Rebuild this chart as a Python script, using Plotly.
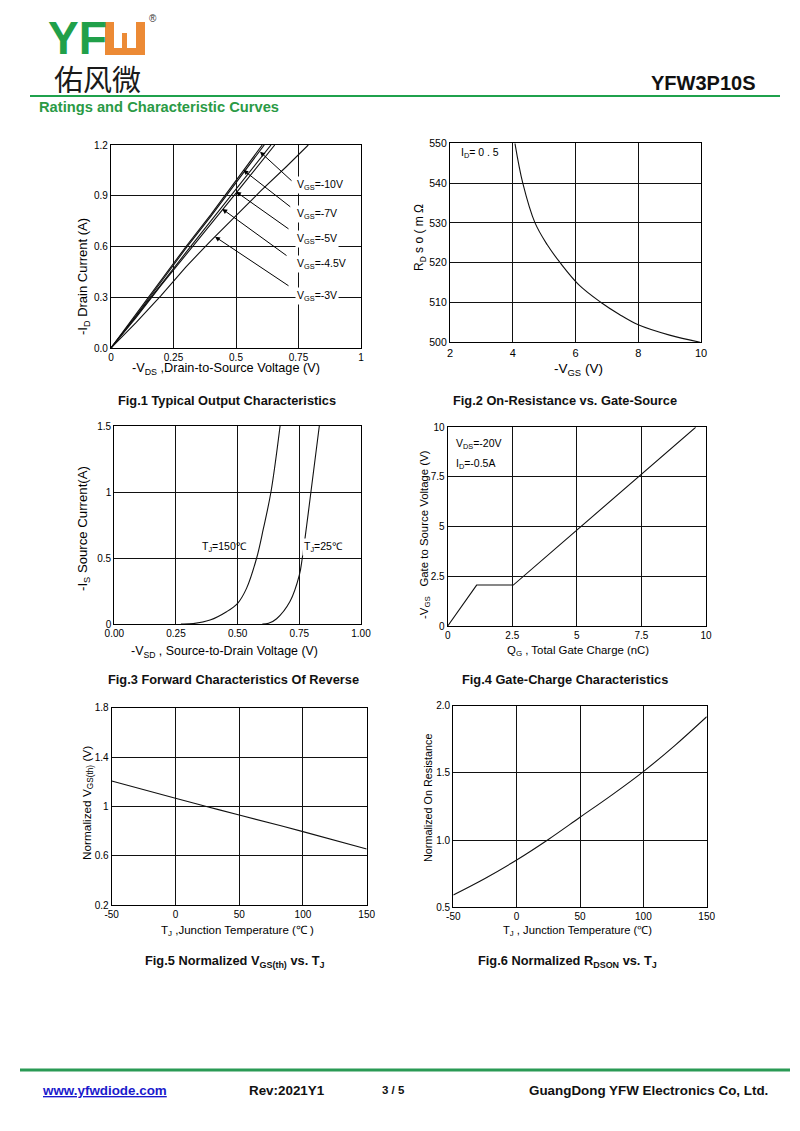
import plotly.graph_objects as go

W, H = 800, 1131
FONT = "Arial, Liberation Sans, sans-serif"
OFF = 8  # page body margin applied by the browser

# ---------------- data ----------------
# Fig.1 Typical output characteristics
f1_vds_10 = [0, 0.1, 0.2, 0.3, 0.4, 0.5, 0.605]
f1_id_10 = [0, 0.20, 0.40, 0.60, 0.79, 0.99, 1.2]
f1_vds_7 = [0, 0.1, 0.2, 0.3, 0.4, 0.5, 0.613]
f1_id_7 = [0, 0.19, 0.39, 0.59, 0.78, 0.98, 1.2]
f1_vds_5 = [0, 0.1, 0.2, 0.3, 0.4, 0.5, 0.64]
f1_id_5 = [0, 0.185, 0.375, 0.565, 0.75, 0.935, 1.2]
f1_vds_45 = [0, 0.1, 0.2, 0.3, 0.4, 0.5, 0.655]
f1_id_45 = [0, 0.18, 0.37, 0.55, 0.735, 0.915, 1.2]
f1_vds_3 = [0, 0.1, 0.2, 0.3, 0.4, 0.5, 0.6, 0.7, 0.789]
f1_id_3 = [0, 0.15, 0.31, 0.48, 0.635, 0.785, 0.93, 1.07, 1.2]
f1_labels = ["V<sub>GS</sub>=-10V", "V<sub>GS</sub>=-7V", "V<sub>GS</sub>=-5V",
             "V<sub>GS</sub>=-4.5V", "V<sub>GS</sub>=-3V"]
f1_label_y = [0.9635, 0.792, 0.644, 0.497, 0.307]
f1_arrow_head_x = [0.596, 0.529, 0.500, 0.445, 0.416]
f1_arrow_head_y = [1.160, 1.052, 0.924, 0.822, 0.658]
f1_arrow_tail_x = [0.728, 0.723, 0.716, 0.708, 0.716]
f1_arrow_tail_y = [0.981, 0.828, 0.698, 0.540, 0.362]
f1_xticks = [0, 0.25, 0.5, 0.75, 1]
f1_xtext = ["0", "0.25", "0.5", "0.75", "1"]
f1_yticks = [0, 0.3, 0.6, 0.9, 1.2]
f1_ytext = ["0.0", "0.3", "0.6", "0.9", "1.2"]

# Fig.2 On-resistance vs gate-source
f2_vgs = [4.07, 4.32, 4.71, 5.1, 5.51, 6.1, 6.78, 7.4, 8.0, 9.0, 9.97]
f2_r = [550, 540, 530, 524.5, 520, 514.5, 510.2, 507, 504.4, 501.8, 500]
f2_xticks = [2, 4, 6, 8, 10]
f2_yticks = [500, 510, 520, 530, 540, 550]

# Fig.3 Forward characteristics of reverse diode
f3_v150 = [0.27, 0.32, 0.388, 0.455, 0.5, 0.536, 0.577, 0.604, 0.635, 0.672]
f3_i150 = [0, 0.003, 0.03, 0.093, 0.157, 0.27, 0.5, 0.72, 1.0, 1.5]
f3_v25 = [0.6, 0.625, 0.658, 0.712, 0.75, 0.762, 0.78, 0.797, 0.831]
f3_i25 = [0, 0.005, 0.04, 0.17, 0.37, 0.5, 0.75, 1.0, 1.5]
f3_xticks = [0, 0.25, 0.5, 0.75, 1.0]
f3_xtext = ["0.00", "0.25", "0.50", "0.75", "1.00"]
f3_yticks = [0, 0.5, 1, 1.5]
f3_ytext = ["0", "0.5", "1", "1.5"]

# Fig.4 Gate charge
f4_q = [0, 1.12, 2.54, 9.6]
f4_v = [0, 2.06, 2.06, 10]
f4_ticks = [0, 2.5, 5, 7.5, 10]
f4_text = ["0", "2.5", "5", "7.5", "10"]

# Fig.5 Normalized VGS(th) vs TJ
f5_t = [-50, 0, 25, 50, 100, 150]
f5_v = [1.205, 1.065, 0.997, 0.93, 0.795, 0.654]
f5_xticks = [-50, 0, 50, 100, 150]
f5_yticks = [0.2, 0.6, 1.0, 1.4, 1.8]
f5_ytext = ["0.2", "0.6", "1", "1.4", "1.8"]

# Fig.6 Normalized RDSON vs TJ
f6_t = [-50, -25, 0, 25, 50, 75, 100, 125, 150]
f6_r = [0.592, 0.715, 0.852, 1.005, 1.17, 1.335, 1.51, 1.705, 1.918]
f6_yticks = [0.5, 1.0, 1.5, 2.0]
f6_ytext = ["0.5", "1.0", "1.5", "2.0"]

# axis titles: (text, centre x, centre y, size, angle)
axis_titles = [
    ("-V<sub>DS</sub> ,Drain-to-Source Voltage (V)", 226, 369, 12.7, 0),
    ("-I<sub>D</sub> Drain Current (A)", 84, 277, 13, -90),
    ("-V<sub>GS</sub> (V)", 578, 369, 13.5, 0),
    ("R<sub>D</sub> s o ( m Ω", 420, 238, 12, -90),
    ("-V<sub>SD</sub> , Source-to-Drain Voltage (V)", 224, 652, 12.4, 0),
    ("-I<sub>S</sub> Source Current(A)", 83, 529, 13.2, -90),
    ("Q<sub>G</sub> , Total Gate Charge (nC)", 578, 651, 11.4, 0),
    ("-V<sub>GS</sub>   Gate to Source Voltage (V)", 425, 535, 11.4, -90),
    ("T<sub>J</sub> ,Junction Temperature (℃ )", 237, 931, 11.5, 0),
    ("Normalized V<sub>GS(th)</sub> (V)", 87, 803, 11.8, -90),
    ("T<sub>J</sub> , Junction Temperature (℃)", 577, 931, 11.2, 0),
    ("Normalized On Resistance", 428, 798, 10.8, -90),
]

# ---------------- helpers ----------------
def px(x):
    return (x - OFF) / W


def py(y):
    return 1 - (y - OFF) / H


fig = go.Figure()
LINE = dict(color="#111", width=1.1)


def add(xs, ys, n, shape="linear"):
    fig.add_trace(go.Scatter(x=xs, y=ys, mode="lines", line=dict(LINE, shape=shape),
                             xaxis="x" if n == 1 else f"x{n}",
                             yaxis="y" if n == 1 else f"y{n}",
                             showlegend=False, hoverinfo="skip"))


def axis(domain, rng, tickvals, ticktext, anchor, size=10):
    return dict(domain=domain, range=rng, tickvals=tickvals, ticktext=ticktext,
                showgrid=True, gridcolor="#111", gridwidth=1, zeroline=False,
                showline=True, linecolor="black", linewidth=1.2, mirror=True,
                ticks="", tickfont=dict(family=FONT, size=size, color="black"),
                anchor=anchor, fixedrange=True, automargin=False)


# ---------------- traces ----------------
add(f1_vds_10, f1_id_10, 1)
add(f1_vds_7, f1_id_7, 1)
add(f1_vds_5, f1_id_5, 1)
add(f1_vds_45, f1_id_45, 1)
add(f1_vds_3, f1_id_3, 1)
add(f2_vgs, f2_r, 2, "spline")
add(f3_v150, f3_i150, 3, "spline")
add(f3_v25, f3_i25, 3, "spline")
add(f4_q, f4_v, 4)
add(f5_t, f5_v, 5, "spline")
add(f6_t, f6_r, 6, "spline")

layout = dict(width=W, height=H, margin=dict(l=0, r=0, t=0, b=0, pad=0, autoexpand=False),
              paper_bgcolor="white", plot_bgcolor="white", showlegend=False,
              font=dict(family=FONT, color="black"))

layout["xaxis"] = axis([px(111), px(361)], [0, 1], f1_xticks, f1_xtext, "y")
layout["yaxis"] = axis([py(348), py(145)], [0, 1.2], f1_yticks, f1_ytext, "x")
layout["xaxis2"] = axis([px(450), px(701)], [2, 10], f2_xticks, [str(v) for v in f2_xticks],
                        "y2", size=11)
layout["yaxis2"] = axis([py(342.3), py(143.3)], [500, 550], f2_yticks, [str(v) for v in f2_yticks],
                        "x2", size=10.5)
layout["xaxis3"] = axis([px(114.3), px(361)], [0, 1], f3_xticks, f3_xtext, "y3")
layout["yaxis3"] = axis([py(624), py(426)], [0, 1.5], f3_yticks, f3_ytext, "x3")
layout["xaxis4"] = axis([px(447.7), px(706)], [0, 10], f4_ticks, f4_text, "y4")
layout["yaxis4"] = axis([py(626), py(427.3)], [0, 10], f4_ticks, f4_text, "x4")
layout["xaxis5"] = axis([px(111.7), px(366.7)], [-50, 150], f5_xticks, [str(v) for v in f5_xticks], "y5")
layout["yaxis5"] = axis([py(905), py(707.7)], [0.2, 1.8], f5_yticks, f5_ytext, "x5")
layout["xaxis6"] = axis([px(453.3), px(706.7)], [-50, 150], f5_xticks, [str(v) for v in f5_xticks], "y6")
layout["yaxis6"] = axis([py(907.3), py(705.7)], [0.5, 2.0], f6_yticks, f6_ytext, "x6")
fig.update_layout(**layout)

ann = []


def text(x, y, t, size, color="#111", xanchor="center", family=FONT, **kw):
    ann.append(dict(x=px(x), y=py(y), xref="paper", yref="paper", text=t, showarrow=False,
                    xanchor=xanchor, yanchor="middle",
                    font=dict(family=family, size=size, color=color), **kw))


# axis titles
for t, cx, cy, sz, ang in axis_titles:
    text(cx, cy, t, sz, color="black", textangle=ang)

# Fig1 labels and arrows
for lab, ly in zip(f1_labels, f1_label_y):
    ann.append(dict(x=0.735, y=ly, xref="x", yref="y", text=lab, showarrow=False,
                    xanchor="left", yanchor="middle", bgcolor="white",
                    font=dict(family=FONT, size=10.5, color="black")))
for hx, hy, tx, ty in zip(f1_arrow_head_x, f1_arrow_head_y, f1_arrow_tail_x, f1_arrow_tail_y):
    ann.append(dict(x=hx, y=hy, xref="x", yref="y", ax=tx, ay=ty, axref="x", ayref="y",
                    text="", showarrow=True, arrowhead=2, arrowsize=1, arrowwidth=1,
                    arrowcolor="black"))
# Fig2 label
ann.append(dict(x=2.3, y=547.5, xref="x2", yref="y2", text="I<sub>D</sub>= 0 . 5", showarrow=False,
                xanchor="left", yanchor="middle", font=dict(family=FONT, size=10.5)))
# Fig3 labels
ann.append(dict(x=0.445, y=0.58, xref="x3", yref="y3", text="T<sub>J</sub>=150℃", showarrow=False,
                xanchor="center", yanchor="middle", font=dict(family=FONT, size=10.5)))
ann.append(dict(x=0.85, y=0.58, xref="x3", yref="y3", text="T<sub>J</sub>=25℃", showarrow=False,
                xanchor="center", yanchor="middle", bgcolor="white", font=dict(family=FONT, size=10.5)))
# Fig4 labels
ann.append(dict(x=0.25, y=9.15, xref="x4", yref="y4", text="V<sub>DS</sub>=-20V", showarrow=False,
                xanchor="left", yanchor="middle", font=dict(family=FONT, size=10.5)))
ann.append(dict(x=0.25, y=8.15, xref="x4", yref="y4", text="I<sub>D</sub>=-0.5A", showarrow=False,
                xanchor="left", yanchor="middle", font=dict(family=FONT, size=10.5)))

# captions
captions = [("Fig.1 Typical Output Characteristics", 227, 400),
            ("Fig.2 On-Resistance vs. Gate-Source", 565, 400),
            ("Fig.3 Forward Characteristics Of Reverse", 233, 679),
            ("Fig.4 Gate-Charge Characteristics", 565, 679),
            ("Fig.5 Normalized V<sub>GS(th)</sub> vs. T<sub>J</sub>", 235, 961),
            ("Fig.6 Normalized R<sub>DSON</sub> vs. T<sub>J</sub>", 567, 961)]
for t, cx, cy in captions:
    text(cx, cy, f"<b>{t}</b>", 12.8)

# header
text(46, 38, "<b>YF</b>", 46, color="#21a04a", xanchor="left", height=34,
     family="Liberation Sans Narrow, Arial Narrow, Arial, sans-serif")
text(147, 18, "®", 10, color="#333", xanchor="left")
text(52, 78, "佑风微", 29, color="#1a1a1a", xanchor="left", height=30, family="Noto Sans CJK SC")
text(757, 83, "<b>YFW3P10S</b>", 20, xanchor="right")
text(37, 107, "<b>Ratings and Characteristic Curves</b>", 14.7, color="#2a9a45", xanchor="left")
# footer
text(40, 1090, "<b><u>www.yfwdiode.com</u></b>", 13.4, color="#1a1acc", xanchor="left")
text(247, 1090, "<b>Rev:2021Y1</b>", 13.4, xanchor="left")
text(393, 1090, "<b>3 / 5</b>", 11.5)
text(770, 1090, "<b>GuangDong YFW Electronics Co, Ltd.</b>", 13.4, xanchor="right")

shapes = [
    # green header line
    dict(type="line", xref="paper", yref="paper", x0=px(30), x1=px(780), y0=py(96), y1=py(96),
         line=dict(color="#1fa14c", width=2)),
    # footer line
    dict(type="line", xref="paper", yref="paper", x0=px(20), x1=px(790), y0=py(1070), y1=py(1070),
         line=dict(color="#2a9a55", width=3)),
    # orange logo block
    dict(type="rect", xref="paper", yref="paper", x0=px(105), x1=px(145), y0=py(55), y1=py(22),
         fillcolor="#ec8a35", line=dict(width=0)),
    dict(type="rect", xref="paper", yref="paper", x0=px(114), x1=px(122), y0=py(48), y1=py(21),
         fillcolor="white", line=dict(width=0)),
    dict(type="rect", xref="paper", yref="paper", x0=px(127), x1=px(136), y0=py(48), y1=py(21),
         fillcolor="white", line=dict(width=0)),
    dict(type="rect", xref="paper", yref="paper", x0=px(121), x1=px(128), y0=py(33), y1=py(21),
         fillcolor="white", line=dict(width=0)),
]
fig.update_layout(annotations=ann, shapes=shapes)
fig.write_html("out.html")
